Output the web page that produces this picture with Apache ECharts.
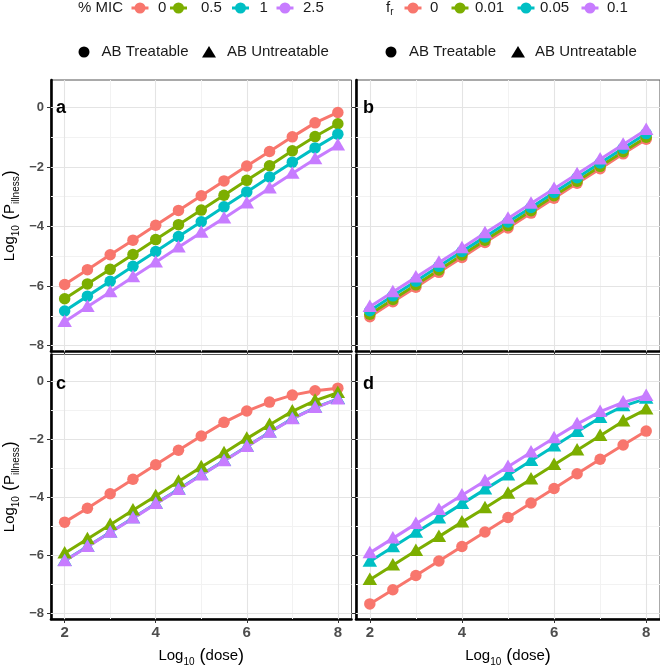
<!DOCTYPE html>
<html><head><meta charset="utf-8">
<script src="https://cdn.jsdelivr.net/npm/echarts@6/dist/echarts.min.js"></script>
<style>html,body{margin:0;padding:0;background:#fff}#c{width:660px;height:668px}</style>
</head><body><div id="c"></div>
<script>
// ---------- data ----------
const dose = [2, 2.5, 3, 3.5, 4, 4.5, 5, 5.5, 6, 6.5, 7, 7.5, 8];
const xTicks = [2, 4, 6, 8];
const xMinor = [3, 5, 7];
const yTicks = [0, -2, -4, -6, -8];
const yMinor = [-1, -3, -5, -7];
const micLevels = ['0', '0.5', '1', '2.5'];
const frLevels = ['0', '0.01', '0.05', '0.1'];
const panelLetters = ['a', 'b', 'c', 'd'];

// panel a (% MIC)
const a_mic0   = [-5.95, -5.45, -4.95, -4.46, -3.96, -3.46, -2.97, -2.47, -1.97, -1.48, -0.99, -0.52, -0.17];
const a_mic05  = [-6.43, -5.93, -5.44, -4.94, -4.44, -3.94, -3.45, -2.95, -2.45, -1.96, -1.46, -0.98, -0.55];
const a_mic1   = [-6.84, -6.34, -5.84, -5.34, -4.84, -4.34, -3.84, -3.34, -2.84, -2.34, -1.84, -1.36, -0.90];
const a_mic25  = [-7.20, -6.70, -6.20, -5.70, -5.20, -4.70, -4.20, -3.72, -3.22, -2.72, -2.22, -1.73, -1.27];
const a_class  = ['AB Treatable', 'AB Treatable', 'AB Treatable', 'AB Untreatable'];

// panel b (f_r)
const b_fr0    = [-7.03, -6.53, -6.04, -5.54, -5.04, -4.54, -4.05, -3.55, -3.05, -2.55, -2.06, -1.56, -1.07];
const b_fr001  = [-6.95, -6.45, -5.96, -5.46, -4.96, -4.46, -3.97, -3.47, -2.97, -2.48, -1.98, -1.49, -1.00];
const b_fr005  = [-6.83, -6.33, -5.84, -5.34, -4.84, -4.35, -3.85, -3.36, -2.86, -2.36, -1.87, -1.37, -0.88];
const b_fr01   = [-6.70, -6.20, -5.71, -5.21, -4.72, -4.22, -3.73, -3.23, -2.73, -2.24, -1.74, -1.25, -0.75];
const b_class  = ['AB Treatable', 'AB Treatable', 'AB Treatable', 'AB Untreatable'];

// panel c (% MIC)
const c_mic0   = [-4.86, -4.38, -3.88, -3.38, -2.88, -2.38, -1.89, -1.42, -1.03, -0.72, -0.48, -0.33, -0.24];
const c_mic05  = [-5.93, -5.44, -4.95, -4.45, -3.96, -3.46, -2.96, -2.48, -1.98, -1.50, -1.04, -0.67, -0.40];
const c_mic1   = [-6.19, -5.70, -5.21, -4.72, -4.22, -3.73, -3.23, -2.74, -2.25, -1.76, -1.29, -0.91, -0.61];
const c_mic25  = [-6.20, -5.71, -5.22, -4.73, -4.23, -3.74, -3.24, -2.75, -2.26, -1.77, -1.30, -0.92, -0.62];
const c_class  = ['AB Treatable', 'AB Untreatable', 'AB Untreatable', 'AB Untreatable'];

// panel d (f_r)
const d_fr0    = [-7.68, -7.19, -6.70, -6.20, -5.70, -5.20, -4.70, -4.20, -3.70, -3.19, -2.69, -2.20, -1.72];
const d_fr001  = [-6.85, -6.35, -5.85, -5.36, -4.86, -4.37, -3.87, -3.38, -2.88, -2.38, -1.88, -1.38, -0.97];
const d_fr005  = [-6.22, -5.72, -5.22, -4.73, -4.23, -3.73, -3.24, -2.74, -2.24, -1.74, -1.26, -0.86, -0.60];
const d_fr01   = [-5.92, -5.42, -4.92, -4.43, -3.93, -3.44, -2.95, -2.45, -1.96, -1.48, -1.05, -0.73, -0.50];
const d_class  = ['AB Treatable', 'AB Untreatable', 'AB Untreatable', 'AB Untreatable'];

// ---------- styling ----------
const COLORS = ['#F8766D', '#7CAE00', '#00BFC4', '#C77CFF'];
const FONT = '"Liberation Sans", Arial, Helvetica, sans-serif';
const panels = [
  { vals: [a_mic0, a_mic05, a_mic1, a_mic25], cls: a_class, names: micLevels },
  { vals: [b_fr0, b_fr001, b_fr005, b_fr01], cls: b_class, names: frLevels },
  { vals: [c_mic0, c_mic05, c_mic1, c_mic25], cls: c_class, names: micLevels },
  { vals: [d_fr0, d_fr001, d_fr005, d_fr01], cls: d_class, names: frLevels }
];
const grids = [
  { left: 47.5, top: 80, width: 304, height: 271.5 },
  { left: 356, top: 80, width: 304, height: 271.5 },
  { left: 47.5, top: 354.5, width: 304, height: 272 },
  { left: 356, top: 354.5, width: 304, height: 272 }
];

const fmt = v => String(v).replace('-', '\u2212');
const richName = {
  n: { fontSize: 15, fontFamily: FONT, color: '#000', lineHeight: 22, verticalAlign: 'middle' },
  p: { fontSize: 18, fontFamily: FONT, color: '#000', lineHeight: 22, verticalAlign: 'middle' },
  s: { fontSize: 10, fontFamily: FONT, color: '#000', lineHeight: 12, verticalAlign: 'bottom' }
};

const xAxes = [], yAxes = [], series = [];
grids.forEach((g, i) => {
  const bottomRow = i >= 2, leftCol = i % 2 === 0;
  xAxes.push({
    type: 'value', gridIndex: i, min: 1.7, max: 8.3,
    axisLine: { show: true, onZero: false, lineStyle: { color: '#000', width: 2.6 } },
    axisTick: { show: true, customValues: xTicks, length: 4, lineStyle: { color: '#333', width: 1 } },
    axisLabel: { show: bottomRow, customValues: xTicks, formatter: fmt, margin: 6,
      fontSize: 15, fontWeight: 'bold', color: '#4D4D4D', fontFamily: FONT },
    splitLine: { show: false },
    name: bottomRow ? '{n|Log}{s|10}{p| (}{n|dose}{p|)}' : '',
    nameLocation: 'middle', nameGap: 26,
    nameTextStyle: { rich: richName }
  });
  yAxes.push({
    type: 'value', gridIndex: i, min: -8.2, max: 0.92,
    axisLine: { show: true, onZero: false, lineStyle: { color: '#000', width: 2.6 } },
    axisTick: { show: true, customValues: yTicks, length: 4, lineStyle: { color: '#333', width: 1 } },
    axisLabel: { show: leftCol, customValues: yTicks, formatter: fmt, margin: 7,
      fontSize: 13, fontWeight: 'bold', color: '#4D4D4D', fontFamily: FONT },
    splitLine: { show: false },
    name: leftCol ? '{n|Log}{s|10}{p| (}{n|P}{s|illness}{p|)}' : '',
    nameLocation: 'middle', nameGap: 30, nameRotate: 90,
    nameTextStyle: { rich: richName }
  });
  // grid lines (major + minor), drawn beneath the data
  const ml = [];
  xMinor.forEach(v => ml.push({ xAxis: v, lineStyle: { color: '#F2F2F2', width: 1 } }));
  yMinor.forEach(v => ml.push({ yAxis: v, lineStyle: { color: '#F2F2F2', width: 1 } }));
  xTicks.forEach(v => ml.push({ xAxis: v, lineStyle: { color: '#E4E4E4', width: 1.1 } }));
  yTicks.forEach(v => ml.push({ yAxis: v, lineStyle: { color: '#E4E4E4', width: 1.1 } }));
  series.push({
    type: 'line', xAxisIndex: i, yAxisIndex: i, data: [], z: 1, silent: true,
    markLine: { silent: true, z: 1, symbol: ['none', 'none'], label: { show: false },
      lineStyle: { type: 'solid' }, data: ml, animation: false }
  });
});
// lines first, then points (ggplot layering)
panels.forEach((p, i) => {
  p.vals.forEach((vals, k) => {
    series.push({
      type: 'line', name: p.names[k], xAxisIndex: i, yAxisIndex: i, z: 3,
      data: dose.map((d, j) => [d, vals[j]]), symbol: 'none',
      lineStyle: { color: COLORS[k], width: 3 }, silent: true
    });
  });
});
panels.forEach((p, i) => {
  p.vals.forEach((vals, k) => {
    const tri = p.cls[k] === 'AB Untreatable';
    series.push({
      type: 'scatter', name: p.names[k], xAxisIndex: i, yAxisIndex: i, z: 4,
      data: dose.map((d, j) => [d, vals[j]]),
      symbol: tri ? 'triangle' : 'circle',
      symbolSize: tri ? [14.5, 12.5] : 11.5,
      symbolOffset: tri ? [0, -1] : [0, 0],
      itemStyle: { color: COLORS[k], opacity: 1 }, silent: true
    });
  });
});

// ---------- legends & panel tags (graphic) ----------
const graphic = [];
function txt(x, y, text, size, extra) {
  graphic.push({ type: 'text', x: x, y: y, silent: true, z: 10,
    style: Object.assign({ text: text, fontSize: size, fontFamily: FONT, fill: '#1a1a1a',
      align: 'left', verticalAlign: 'middle' }, extra || {}) });
}
function key(cx, cy, color) {
  graphic.push({ type: 'line', silent: true, shape: { x1: cx - 8.5, y1: cy, x2: cx + 8.5, y2: cy },
    style: { stroke: color, lineWidth: 3 } });
  graphic.push({ type: 'circle', silent: true, shape: { cx: cx, cy: cy, r: 5.5 }, style: { fill: color } });
}
function dot(cx, cy) {
  graphic.push({ type: 'circle', silent: true, shape: { cx: cx, cy: cy, r: 5.5 }, style: { fill: '#000' } });
}
function triangle(cx, cy) {
  graphic.push({ type: 'polygon', silent: true,
    shape: { points: [[cx, cy - 6], [cx - 7, cy + 5.5], [cx + 7, cy + 5.5]] }, style: { fill: '#000' } });
}
// left legend
txt(78, 8, '% MIC', 15);
const micKeyX = [140, 178.5, 240.5, 285];
const micTxtX = [158, 201, 259.5, 303];
micLevels.forEach((m, k) => { key(micKeyX[k], 8, COLORS[k]); txt(micTxtX[k], 8, m, 15); });
dot(84, 52); txt(101.5, 52, 'AB Treatable', 15);
triangle(209, 52); txt(227, 52, 'AB Untreatable', 15);
// right legend
graphic.push({ type: 'text', x: 386, y: 8, silent: true, style: {
  text: '{f|f}{r|r}', verticalAlign: 'middle', align: 'left',
  rich: { f: { fontSize: 15, fontFamily: FONT, fill: '#1a1a1a', lineHeight: 18, verticalAlign: 'middle' },
          r: { fontSize: 10, fontFamily: FONT, fill: '#1a1a1a', lineHeight: 10, verticalAlign: 'bottom' } } } });
const frKeyX = [413, 460, 526, 590];
const frTxtX = [430, 475, 540, 607];
frLevels.forEach((m, k) => { key(frKeyX[k], 8, COLORS[k]); txt(frTxtX[k], 8, m, 15); });
dot(391, 52); txt(409, 52, 'AB Treatable', 15);
triangle(518, 52); txt(535, 52, 'AB Untreatable', 15);
// panel tags
const tagPos = [[56, 108], [363, 108], [56, 384], [363, 384]];
panelLetters.forEach((l, i) => txt(tagPos[i][0], tagPos[i][1], l, 18, { fontWeight: 'bold', fill: '#000' }));

const chart = echarts.init(document.getElementById('c'), null, { renderer: 'canvas' });
chart.setOption({
  animation: false,
  backgroundColor: '#ffffff',
  grid: grids.map(g => Object.assign({ show: true, borderColor: '#555', borderWidth: 1, backgroundColor: '#fff', containLabel: false }, g)),
  xAxis: xAxes,
  yAxis: yAxes,
  series: series,
  graphic: graphic
});
</script>
</body></html>
